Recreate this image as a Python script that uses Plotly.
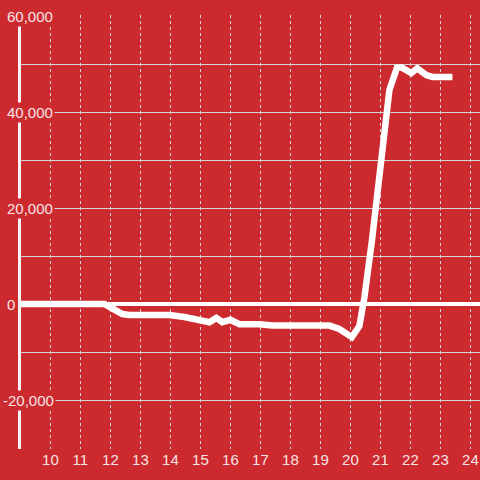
import plotly.graph_objects as go

# ---- data ----
x_vals = [9.0, 11.8, 11.97, 12.2, 12.4, 12.63, 13.97, 14.47, 14.97, 15.3, 15.53, 15.73,
          16.0, 16.3, 16.97, 17.4, 19.3, 19.63, 19.9, 20.05, 20.3, 20.47, 20.72, 20.93,
          21.13, 21.3, 21.55, 21.7, 22.03, 22.23, 22.53, 22.73, 23.4]
y_vals = [0, 0, -600, -1500, -2100, -2300, -2300, -2700, -3200, -3800, -2900, -3800,
          -3300, -4200, -4200, -4500, -4500, -5200, -6300, -6900, -4600, 1500, 13300, 25800,
          36000, 44600, 49200, 49300, 48100, 49100, 47700, 47300, 47300]

x_ticks = list(range(10, 25))
x_tick_labels = [str(v) for v in x_ticks]
y_label_vals = [60000, 40000, 20000, 0, -20000]
y_label_text = ["60,000", "40,000", "20,000", "0", "-20,000"]
y_grid_vals = list(range(-30000, 60001, 10000))

BG = "#cc2a2f"
LABEL = "#f6e4e4"
GRID = "#d4d4d4"
FONT = "Liberation Sans, Arial, sans-serif"

W, H = 480, 480
ML, MR, MT, MB = 21, 0, 15, 31
plot_w = W - ML - MR

fig = go.Figure()
fig.add_trace(go.Scatter(x=x_vals, y=y_vals, mode="lines",
                         line=dict(color="white", width=6.5),
                         hoverinfo="skip", showlegend=False))

annotations = []
for v, t in zip(y_label_vals, y_label_text):
    left_px = 1 if v < 0 else 5
    annotations.append(dict(
        x=(left_px - ML) / plot_w, xref="paper", xanchor="left",
        y=v, yref="y", yanchor="middle",
        text=t, showarrow=False, bgcolor=BG, borderpad=1,
        font=dict(family=FONT, size=15, color=LABEL)))

fig.update_layout(
    width=W, height=H,
    margin=dict(l=ML, r=MR, t=MT, b=MB, pad=0),
    paper_bgcolor=BG, plot_bgcolor=BG,
    font=dict(family=FONT, size=15, color=LABEL),
    showlegend=False,
    hovermode=False,
    annotations=annotations,
    xaxis=dict(range=[9.02, 24.32], tickvals=x_ticks, ticktext=x_tick_labels,
               showgrid=True, gridcolor=GRID, gridwidth=1, griddash="dot",
               showline=False, zeroline=False, ticks="",
               tickfont=dict(family=FONT, size=15, color=LABEL)),
    yaxis=dict(range=[-30208, 60208], tickvals=y_grid_vals, showticklabels=False,
               showgrid=True, gridcolor=GRID, gridwidth=1,
               zeroline=True, zerolinecolor="white", zerolinewidth=3.5,
               showline=True, linecolor="#f4f4f4", linewidth=3, ticks=""),
)

fig.write_html("out.html",
               config={"displayModeBar": False, "staticPlot": True},
               post_script="document.body.style.margin='0';document.body.style.overflow='hidden';")
